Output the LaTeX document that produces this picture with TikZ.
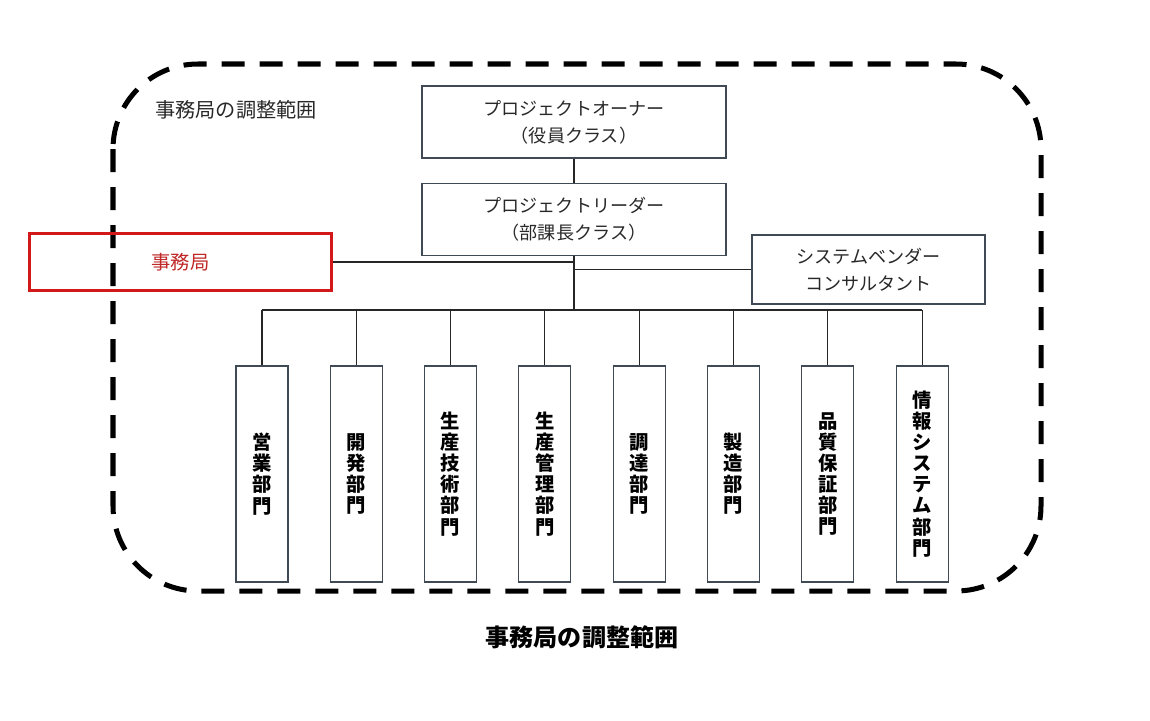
\documentclass[tikz,border=0pt]{standalone}
\usepackage{fontspec}
\setmainfont{Noto Sans CJK JP}
\usepackage{xcolor}
\usetikzlibrary{positioning,calc}
\tikzset{
  orgbox/.style ={draw=boxedge, line width=0.6pt, align=center,
                  minimum width=#1, minimum height=1.44cm,
                  text=boxtext, inner sep=2pt,
                  font=\fontsize{10.3}{15.4}\selectfont},
  orgbox/.default=6.08cm,
  vendbox/.style={orgbox=4.66cm, minimum height=1.38cm},
  officebox/.style={draw=officered, line width=1.7pt,
                  minimum width=6.04cm, minimum height=1.14cm,
                  text=officetext, font=\fontsize{11}{13}\selectfont},
  deptbox/.style={draw=boxedge, line width=0.6pt, align=center,
                  minimum width=1.04cm, minimum height=4.32cm,
                  inner sep=1pt, text=black,
                  font=\bfseries\fontsize{11}{12}\selectfont},
  rangeline/.style={line width=2.85pt, dash pattern=on 0.46cm off 0.3cm,
                  rounded corners=1.7cm},
  conn/.style   ={line width=0.6pt, draw=black!85},
  trunk/.style  ={line width=0.9pt, draw=black!85},
}
\definecolor{boxedge}   {RGB}{64,74,85}
\definecolor{boxtext}   {RGB}{40,40,40}
\definecolor{officered} {RGB}{210,24,24}
\definecolor{officetext}{RGB}{192,40,40}

\begin{document}
\begin{tikzpicture}
  \useasboundingbox (0,0) rectangle (23,-14.4);
  % coordination range
  \draw[rangeline] (2.26,-1.28) rectangle (20.82,-11.82);
  \node[anchor=west, text=boxtext, font=\fontsize{11.5}{13}\selectfont] (rangelbl) at (2.98,-2.2) {事務局の調整範囲};
  % management
  \node[orgbox] (owner) at (11.48,-2.44) {プロジェクトオーナー\\（役員クラス）};
  \node[orgbox, below=0.48cm of owner] (leader) {プロジェクトリーダー\\（部課長クラス）};
  \node[officebox] (office) at (3.61,-5.24) {事務局};
  \node[vendbox] (vendor) at (17.37,-5.39) {システムベンダー\\コンサルタント};
  \coordinate (bus) at (11.48,-6.2);
  \draw[conn] (owner) -- (leader);
  \draw[trunk] (leader.south) -- (bus);
  \draw[conn] (office.east) -- (office.east -| leader.south);
  \draw[conn] (vendor.west -| leader.south) -- (vendor.west);
  % departments
  \foreach \i/\txt in {0/{営\\業\\部\\門}, 1/{開\\発\\部\\門},
      2/{生\\産\\技\\術\\部\\門}, 3/{生\\産\\管\\理\\部\\門},
      4/{調\\達\\部\\門}, 5/{製\\造\\部\\門},
      6/{品\\質\\保\\証\\部\\門}, 7/{情\\報\\シ\\ス\\テ\\ム\\部\\門}}{
    \node[deptbox] (dept\i) at ({5.24+1.886*\i},-9.48) {\txt};
    \draw[conn] (dept\i.north |- bus) -- (dept\i.north);
  }
  \draw[conn] (dept0.north |- bus) -- (dept7.north |- bus);
  % caption
  \node[font=\bfseries\fontsize{13.7}{16}\selectfont] (caption) at (11.64,-12.74) {事務局の調整範囲};
\end{tikzpicture}
\end{document}
